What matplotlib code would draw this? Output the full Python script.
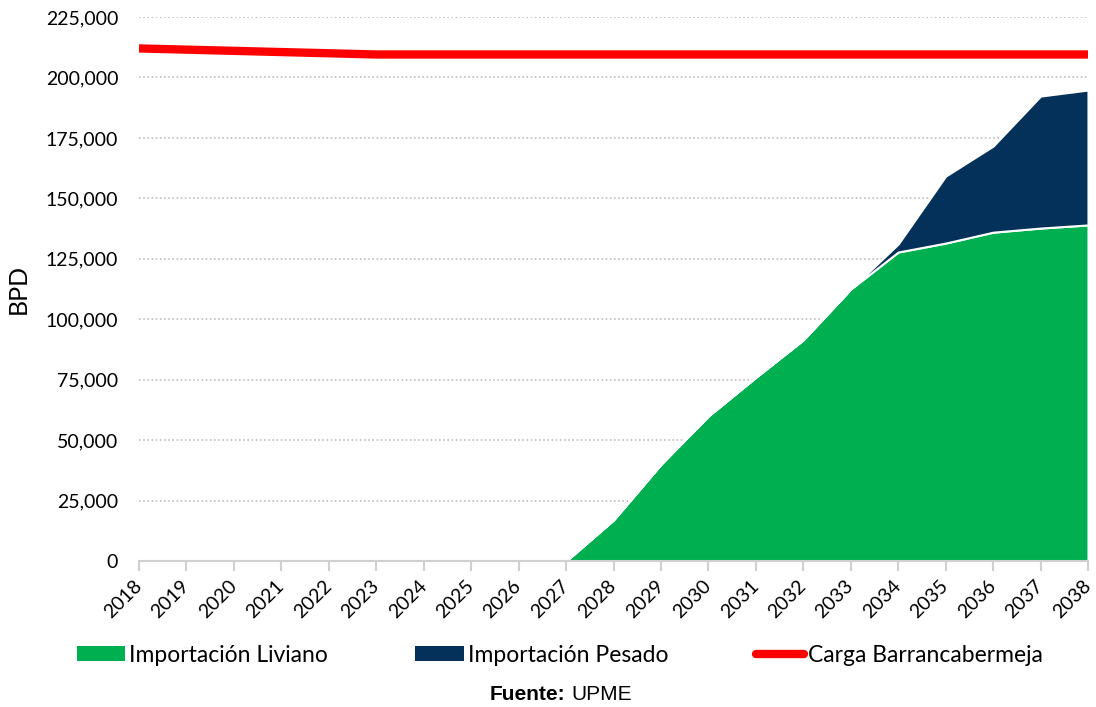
import matplotlib
matplotlib.use("Agg")
import matplotlib.pyplot as plt
from matplotlib.patches import Patch
from matplotlib.lines import Line2D
from matplotlib.ticker import FuncFormatter, MultipleLocator
import numpy as np

years = list(range(2018, 2039))
importacion_liviano = [0, 0, 0, 0, 0, 0, 0, 0, 0, 0,
                       17000, 40000, 60000, 76000, 91500, 112500,
                       127800, 131500, 136000, 137700, 139000]
importacion_pesado = [0, 0, 0, 0, 0, 0, 0, 0, 0, 0,
                      0, 0, 0, 0, 0, 0,
                      3300, 27700, 35600, 54600, 55800]
carga_barrancabermeja = [212000, 211500, 211000, 210500, 210000, 209500,
                         209500, 209500, 209500, 209500, 209500, 209500,
                         209500, 209500, 209500, 209500, 209500, 209500,
                         209500, 209500, 209500]

GREEN = "#00B050"
NAVY = "#03315A"
RED = "#FF0000"

plt.rcParams["font.family"] = ["Lato", "DejaVu Sans"]

fig = plt.figure(figsize=(10.96, 7.07), dpi=100)
ax = fig.add_axes([139 / 1096, 1 - 561 / 707, (1088 - 139) / 1096, (561 - 17) / 707])

x = np.array(years)
liv = np.array(importacion_liviano, dtype=float)
pes = np.array(importacion_pesado, dtype=float)
total = liv + pes

ax.fill_between(x, 0, liv, facecolor=GREEN, edgecolor="white", linewidth=1.5, zorder=1)
ax.fill_between(x, liv, total, facecolor=NAVY, edgecolor="white", linewidth=1.5, zorder=1)
ax.plot(x, carga_barrancabermeja, color=RED, linewidth=6, solid_capstyle="butt", zorder=3)

ax.set_xlim(2018, 2038)
ax.set_ylim(0, 225000)
ax.yaxis.set_major_locator(MultipleLocator(25000))
ax.yaxis.set_major_formatter(FuncFormatter(lambda v, p: f"{int(v):,}"))
ax.set_xticks(years)
ax.set_xticklabels([str(y) for y in years], rotation=45, ha="right", va="center",
                   rotation_mode="anchor", fontsize=14)

ax.grid(axis="y", color="#BFBFBF", linestyle=(0, (1, 1.5)), linewidth=1.2, zorder=0)
ax.set_axisbelow(True)
for side in ("left", "right", "top"):
    ax.spines[side].set_visible(False)
ax.spines["bottom"].set_color("#D0D0D0")
ax.spines["bottom"].set_linewidth(1.5)
ax.spines["bottom"].set_zorder(4)
ax.tick_params(axis="y", length=0, pad=15, labelsize=14)
ax.tick_params(axis="x", length=7, width=1.5, color="#D0D0D0", pad=9)

ax.set_ylabel("BPD", fontsize=18)
ax.yaxis.set_label_coords(-0.115, 0.5)

handles = [
    Patch(facecolor=GREEN, edgecolor="none"),
    Patch(facecolor=NAVY, edgecolor="none"),
    Line2D([0], [0], color=RED, linewidth=6, solid_capstyle="round"),
]
labels = ["Importación Liviano", "Importación Pesado", "Carga Barrancabermeja"]
fig.legend(handles, labels, loc="center", bbox_to_anchor=(0.511, 1 - 655 / 707),
           ncol=3, frameon=False, fontsize=16.5, handlelength=2.1, handleheight=0.6,
           handletextpad=0.2, columnspacing=3.8)

fig.text(0.5155, 1 - 695 / 707, "Fuente:", ha="right", va="center",
         fontsize=15, fontweight="bold", family="Liberation Sans")
fig.text(0.5215, 1 - 695 / 707, "UPME", ha="left", va="center",
         fontsize=15, family="Liberation Sans")

fig.savefig("out.png", dpi=100, facecolor="white")
